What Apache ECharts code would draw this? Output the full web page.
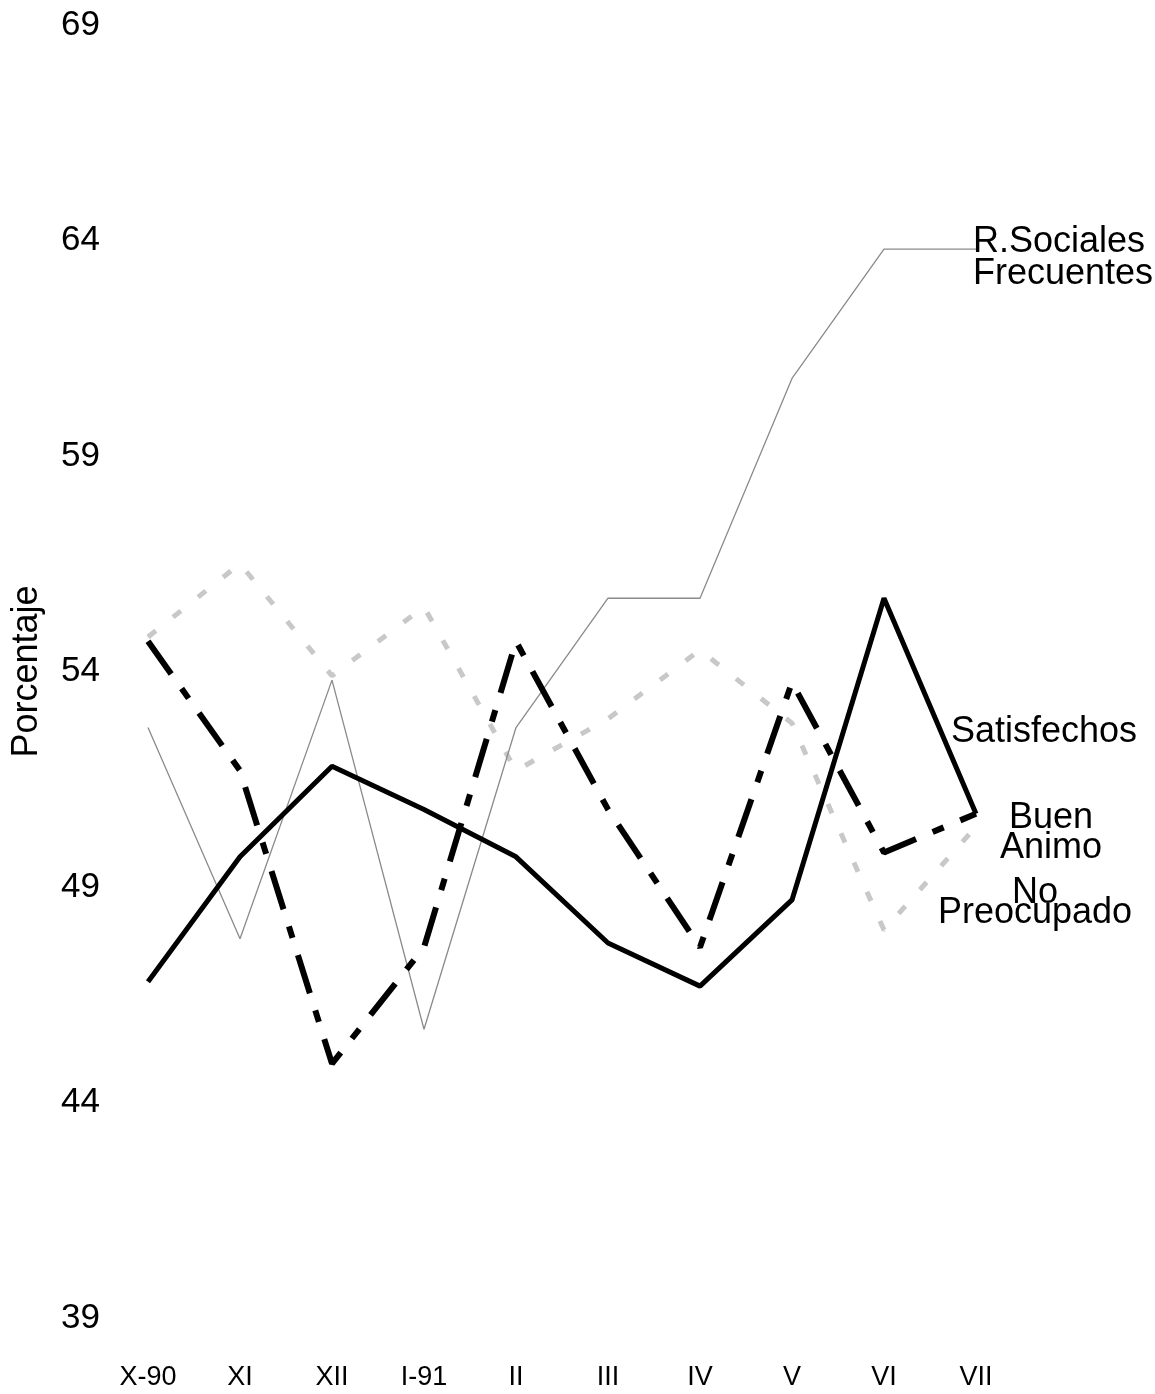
<!DOCTYPE html>
<html>
<head>
<meta charset="utf-8">
<script src="https://cdn.jsdelivr.net/npm/echarts@6/dist/echarts.min.js"></script>
<style>
html,body{margin:0;padding:0;background:#fff;}
#chart{width:1155px;height:1394px;}
</style>
</head>
<body>
<div id="chart"></div>
<script>
const categories = ['X-90','XI','XII','I-91','II','III','IV','V','VI','VII'];
const satisfechos = [46.8, 49.7, 51.8, 50.8, 49.7, 47.7, 46.7, 48.7, 55.7, 50.7];
const buenAnimo = [54.7, 51.7, 44.9, 47.6, 54.7, 50.8, 47.6, 53.75, 49.8, 50.7];
const rSociales = [52.7, 47.8, 53.8, 45.7, 52.7, 55.7, 55.7, 60.8, 63.8, 63.8];
const noPreocupado = [54.8, 56.5, 53.9, 55.5, 51.7, 52.9, 54.5, 52.8, 48.0, 50.4];
const yTicks = [39, 44, 49, 54, 59, 64, 69];

const FONT = '"Liberation Sans", Arial, Helvetica, sans-serif';
const chart = echarts.init(document.getElementById('chart'), null, {renderer: 'canvas'});

function endLabel(text, offset, align, lineHeight) {
  return {
    show: true,
    formatter: text,
    offset: offset,
    align: align,
    color: '#000',
    fontFamily: FONT,
    fontSize: 36,
    lineHeight: lineHeight
  };
}

chart.setOption({
  animation: false,
  backgroundColor: '#fff',
  grid: {left: 148, right: 179, top: 25, bottom: 76, containLabel: false, outerBoundsMode: 'none'},
  xAxis: {
    type: 'category',
    data: categories,
    boundaryGap: false,
    axisLine: {show: false},
    axisTick: {show: false},
    splitLine: {show: false},
    axisLabel: {color: '#000', fontFamily: FONT, fontSize: 27, margin: 46}
  },
  yAxis: {
    type: 'value',
    min: yTicks[0],
    max: yTicks[yTicks.length - 1],
    interval: yTicks[1] - yTicks[0],
    name: 'Porcentaje',
    nameLocation: 'middle',
    nameRotate: 90,
    nameGap: 103,
    nameTextStyle: {color: '#000', fontFamily: FONT, fontSize: 36},
    axisLine: {show: false},
    axisTick: {show: false},
    splitLine: {show: false},
    axisLabel: {color: '#000', fontFamily: FONT, fontSize: 35, margin: 48}
  },
  series: [
    {
      name: 'No Preocupado',
      type: 'line',
      data: noPreocupado,
      symbol: 'none',
      lineStyle: {color: '#c8c8c8', width: 5, type: [10, 22]},
      endLabel: endLabel('No\nPreocupado', [51, 76], 'center', 20)
    },
    {
      name: 'R.Sociales Frecuentes',
      type: 'line',
      data: rSociales,
      symbol: 'none',
      lineStyle: {color: '#8a8a8a', width: 1.3},
      endLabel: endLabel('R.Sociales\nFrecuentes', [-11, 9], 'left', 32)
    },
    {
      name: 'Buen Animo',
      type: 'line',
      data: buenAnimo,
      symbol: 'none',
      lineStyle: {color: '#000', width: 6, type: [40, 18, 12, 18], cap: 'butt'},
      endLabel: endLabel('Buen\nAnimo', [67, 19], 'center', 30)
    },
    {
      name: 'Satisfechos',
      type: 'line',
      data: satisfechos,
      symbol: 'none',
      lineStyle: {color: '#000', width: 5},
      endLabel: endLabel('Satisfechos', [-33, -82], 'left', 36)
    }
  ]
});
</script>
</body>
</html>
